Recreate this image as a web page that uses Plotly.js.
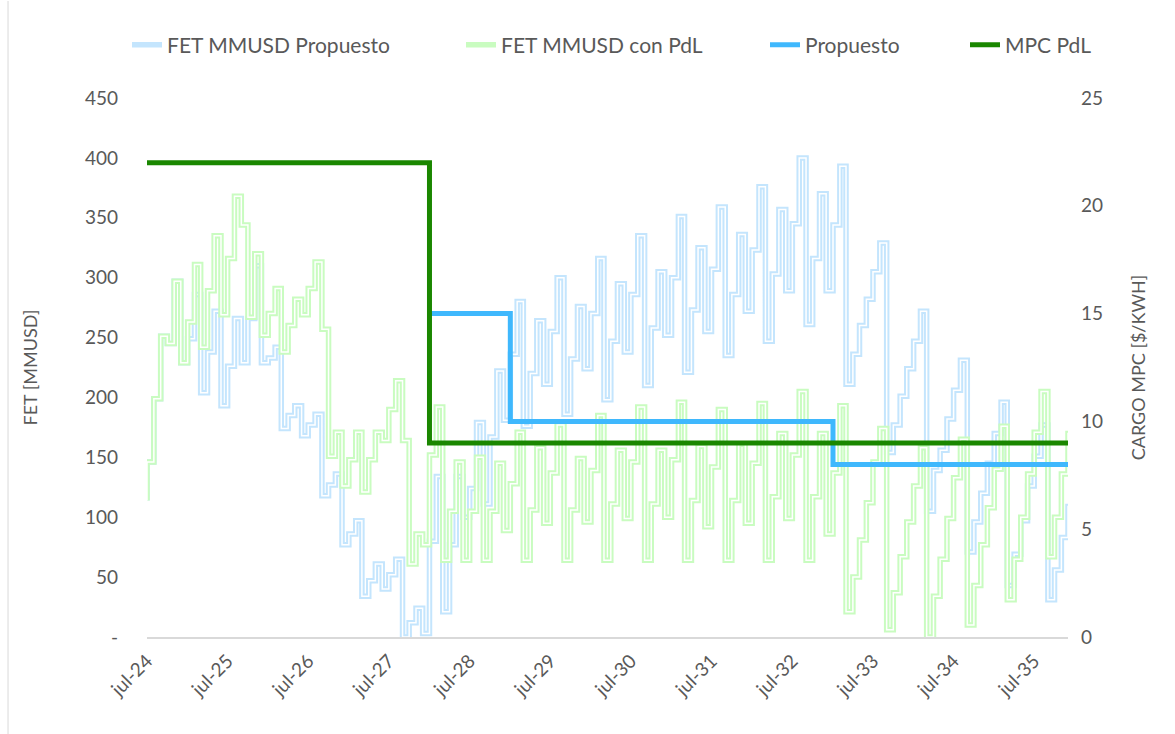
<!DOCTYPE html>
<html>
<head>
<meta charset="utf-8">
<script src="https://cdn.plot.ly/plotly-3.0.1.min.js"></script>
<style>
  html, body { margin: 0; padding: 0; background: #ffffff; }
  #chart { width: 1175px; height: 734px; }
</style>
</head>
<body>
<div id="chart"></div>
<script>
// ---- Data (monthly, first value is the starting level at jul-24) ----
const startYear = 2024;
const startMonth = 7; // July

const fetPropuesto = [
  114,
  146, 199, 251, 245, 297, 229, 249, 286, 204, 238, 272, 193,
  226, 266, 229, 266, 310, 229, 233, 242, 174, 185, 193, 168,
  177, 186, 118, 127, 136, 77, 86, 97, 34, 47, 61, 40,
  52, 65, 0, 12, 24, 3, 80, 134, 21, 77, 134, 100,
  124, 179, 111, 167, 222, 181, 236, 280, 176, 220, 264, 211,
  255, 300, 186, 232, 276, 224, 270, 316, 198, 247, 295, 238,
  286, 335, 210, 258, 305, 252, 300, 351, 221, 273, 325, 255,
  307, 359, 235, 286, 336, 272, 323, 376, 247, 303, 357, 289,
  345, 400, 261, 316, 370, 289, 344, 393, 211, 236, 260, 282,
  305, 329, 154, 177, 201, 224, 247, 272, 105, 139, 156, 182,
  206, 231, 71, 96, 120, 145, 170, 196, 43, 69, 97, 126,
  151, 177, 31, 56, 83, 109
];

const fetConPdL = [
  114,
  146, 199, 251, 245, 297, 229, 263, 311, 242, 289, 335, 269,
  316, 368, 344, 267, 320, 252, 270, 291, 238, 260, 282, 269,
  291, 313, 257, 151, 171, 126, 148, 171, 121, 148, 171, 164,
  190, 214, 164, 61, 86, 77, 152, 192, 64, 105, 146, 64,
  105, 150, 64, 105, 145, 89, 128, 171, 64, 106, 158, 95,
  137, 177, 64, 106, 149, 96, 139, 185, 64, 111, 156, 99,
  146, 192, 64, 111, 156, 100, 148, 196, 64, 114, 159, 92,
  142, 190, 64, 114, 161, 95, 145, 195, 64, 117, 170, 99,
  152, 205, 64, 117, 170, 86, 137, 193, 21, 50, 81, 112,
  146, 174, 6, 37, 67, 96, 126, 158, 0, 34, 65, 99,
  133, 165, 10, 43, 77, 108, 140, 176, 31, 65, 100, 136,
  171, 205, 67, 100, 136, 170
];

// Step series on the secondary axis ($/kWh)
const propuestoDates  = ['2028-01-01', '2029-01-01', '2033-01-01', '2035-12-01'];
const propuestoValues = [15, 10, 8, 8];
const mpcDates  = ['2024-07-01', '2028-01-01', '2035-12-01'];
const mpcValues = [22, 9, 9];

// Axis ticks
const xTickDates  = ['2024-07-01','2025-07-01','2026-07-01','2027-07-01','2028-07-01','2029-07-01',
                     '2030-07-01','2031-07-01','2032-07-01','2033-07-01','2034-07-01','2035-07-01'];
const xTickLabels = ['jul-24','jul-25','jul-26','jul-27','jul-28','jul-29',
                     'jul-30','jul-31','jul-32','jul-33','jul-34','jul-35'];
const yTickValues = [0, 50, 100, 150, 200, 250, 300, 350, 400, 450];
const yTickLabels = ['-', '50', '100', '150', '200', '250', '300', '350', '400', '450'];
const y2TickValues = [0, 5, 10, 15, 20, 25];

// ---- Build monthly date list ----
function monthDates(n) {
  const out = [];
  for (let i = 0; i < n; i++) {
    const total = (startMonth - 1) + i;
    const y = startYear + Math.floor(total / 12);
    const m = (total % 12) + 1;
    out.push(y + '-' + String(m).padStart(2, '0') + '-01');
  }
  return out;
}
const datesProp = monthDates(fetPropuesto.length);
const datesPdL  = monthDates(fetConPdL.length);

const FONT = 'Lato, "Open Sans", "DejaVu Sans", sans-serif';
const GREY = '#595959';

const lightBlue  = '#c4e5fd';
const lightGreen = '#c9fcc0';

const traces = [
  { x: datesProp, y: fetPropuesto, type: 'scatter', mode: 'lines', name: 'FET MMUSD Propuesto',
    legend: 'legend', line: { color: lightBlue, width: 5.5, shape: 'vh' }, yaxis: 'y' },
  { x: datesProp, y: fetPropuesto, type: 'scatter', mode: 'lines', showlegend: false, hoverinfo: 'skip',
    line: { color: '#ffffff', width: 1.5, shape: 'vh' }, yaxis: 'y' },
  { x: datesPdL, y: fetConPdL, type: 'scatter', mode: 'lines', name: 'FET MMUSD con PdL',
    legend: 'legend2', line: { color: lightGreen, width: 5.5, shape: 'vh' }, yaxis: 'y' },
  { x: datesPdL, y: fetConPdL, type: 'scatter', mode: 'lines', showlegend: false, hoverinfo: 'skip',
    line: { color: '#ffffff', width: 1.5, shape: 'vh' }, yaxis: 'y' },
  { x: propuestoDates, y: propuestoValues, type: 'scatter', mode: 'lines', name: 'Propuesto',
    legend: 'legend3', line: { color: '#3fb8fd', width: 5, shape: 'hv' }, yaxis: 'y2' },
  { x: mpcDates, y: mpcValues, type: 'scatter', mode: 'lines', name: 'MPC PdL',
    legend: 'legend4', line: { color: '#1a8700', width: 5, shape: 'hv' }, yaxis: 'y2' }
];

function legendAt(px) {
  return {
    orientation: 'h', x: (px - 147) / 921, xanchor: 'left', y: 1.098, yanchor: 'middle',
    font: { family: FONT, size: 21, color: GREY }, bgcolor: 'rgba(0,0,0,0)', borderwidth: 0
  };
}

const layout = {
  width: 1175, height: 734,
  margin: { l: 147, r: 107, t: 98, b: 97 },
  paper_bgcolor: '#ffffff', plot_bgcolor: '#ffffff',
  font: { family: FONT, color: GREY, size: 19 },
  showlegend: true,
  legend: legendAt(127),
  legend2: legendAt(461),
  legend3: legendAt(765),
  legend4: legendAt(965),
  xaxis: {
    type: 'date',
    range: ['2024-07-01', '2035-12-01'],
    tickmode: 'array', tickvals: xTickDates, ticktext: xTickLabels,
    tickangle: -45, tickfont: { size: 19, color: GREY },
    showgrid: false, zeroline: false,
    showline: true, linecolor: '#d9d9d9', linewidth: 1.5,
    ticks: '', ticklabelstandoff: 4
  },
  yaxis: {
    range: [0, 450],
    tickmode: 'array', tickvals: yTickValues, ticktext: yTickLabels,
    tickfont: { size: 19, color: GREY },
    showgrid: false, zeroline: false, showline: false, ticks: '',
    ticklabelstandoff: 28,
    title: { text: 'FET [MMUSD]', font: { size: 18, color: GREY }, standoff: 42 }
  },
  yaxis2: {
    range: [0, 25], overlaying: 'y', side: 'right',
    tickmode: 'array', tickvals: y2TickValues,
    tickfont: { size: 19, color: GREY },
    showgrid: false, zeroline: false, showline: false, ticks: '',
    ticklabelstandoff: 12,
    title: { text: 'CARGO MPC [$/KWH]', font: { size: 18, color: GREY }, standoff: 30 }
  },
  shapes: [
    { type: 'line', xref: 'paper', yref: 'paper', x0: -0.1509, x1: -0.1509, y0: -0.18, y1: 1.18,
      line: { color: '#d9d9d9', width: 1 } }
  ]
};

Plotly.newPlot('chart', traces, layout, { displayModeBar: false, staticPlot: true });
</script>
</body>
</html>
